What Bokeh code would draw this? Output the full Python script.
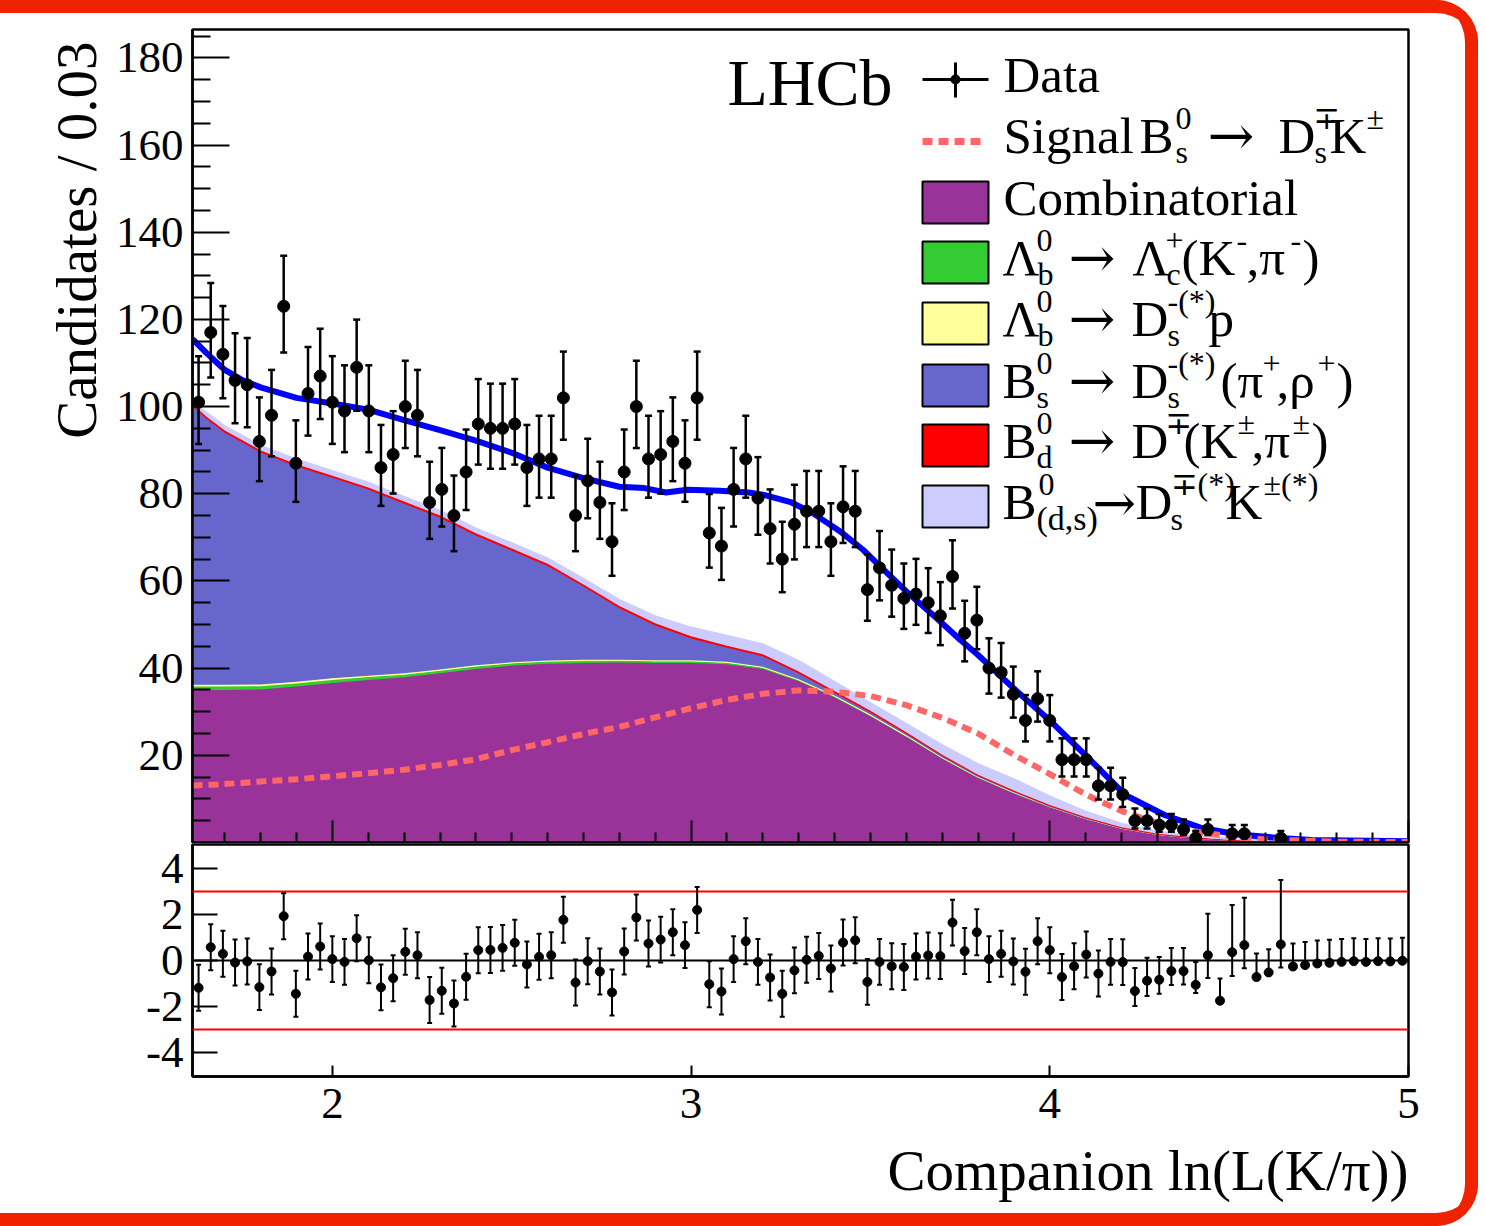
import numpy as np
from bokeh.plotting import figure
from bokeh.layouts import column
from bokeh.models import (Range1d, FixedTicker, Whisker, TeeHead,
                          ColumnDataSource, Span, Label, BoxAnnotation, Arrow, Title)
from bokeh.embed import file_html
from bokeh.resources import INLINE

# ---------------- data ----------------
x_lo, x_hi, n_bins = 1.61, 5.0, 100

counts = [101, 117, 112, 106, 105, 92, 98, 123, 87, 103,
          107, 101, 99, 109, 99, 86, 89, 100, 98, 78,
          81, 75, 85, 96, 95, 95, 96, 86, 88, 88,
          102, 75, 83, 78, 69, 85, 100, 88, 89, 92,
          87, 102, 71, 68, 81, 88, 79, 72, 65, 73,
          76, 76, 69, 77, 76, 58, 63, 59, 56, 57,
          55, 52, 61, 48, 51, 40, 39, 34, 28, 33,
          28, 19, 19, 19, 13, 13, 11, 5, 5, 4,
          4, 3, 1, 3, 0, 2, 2, 0, 0, 1,
          0, 0, 0, 0, 0, 0, 0, 0, 0, 0]

pulls = [-1.19, 0.58, 0.29, -0.09, -0.04, -1.16, -0.48, 1.93, -1.45, 0.17,
         0.61, 0.06, -0.06, 0.97, 0.01, -1.17, -0.77, 0.38, 0.23, -1.72,
         -1.32, -1.87, -0.71, 0.45, 0.46, 0.55, 0.77, -0.17, 0.16, 0.23,
         1.77, -0.96, -0.03, -0.48, -1.39, 0.39, 1.87, 0.74, 0.91, 1.23,
         0.67, 2.20, -1.03, -1.35, 0.06, 0.84, -0.06, -0.74, -1.45, -0.43,
         0.03, 0.20, -0.35, 0.78, 0.88, -0.93, -0.06, -0.25, -0.28, 0.17,
         0.22, 0.19, 1.65, 0.41, 1.23, 0.06, 0.29, -0.04, -0.49, 0.84,
         0.45, -0.72, -0.25, 0.26, -0.57, -0.06, -0.07, -1.33, -0.88, -0.84,
         -0.46, -0.46, -1.06, 0.23, -1.75, 0.36, 0.67, -0.72, -0.52, 0.70,
         -0.26, -0.20, -0.13, -0.10, -0.06, -0.03, -0.06, -0.03, -0.04, -0.01]

pull_err_up = [1.0, 1.0, 1.0, 1.0, 1.0, 1.0, 1.0, 1.0, 1.0, 1.0,
               1.0, 1.0, 1.0, 1.0, 1.0, 1.0, 1.0, 1.0, 1.0, 1.0,
               1.0, 1.0, 1.0, 1.0, 1.0, 1.0, 1.0, 1.0, 1.0, 1.0,
               1.0, 1.0, 1.0, 1.0, 1.0, 1.0, 1.0, 1.0, 1.0, 1.0,
               1.0, 1.0, 1.0, 1.0, 1.0, 1.0, 1.0, 1.0, 1.0, 1.0,
               1.0, 1.0, 1.0, 1.0, 1.0, 1.0, 1.0, 1.0, 1.0, 1.0,
               1.0, 1.0, 1.0, 1.0, 1.0, 1.0, 1.0, 1.0, 1.0, 1.0,
               1.0, 1.0, 1.0, 1.0, 1.0, 1.0, 1.0, 1.0, 1.0, 0.99,
               1.0, 1.0, 1.0, 1.81, 0.97, 2.06, 2.06, 1.03, 1.01, 2.80,
               1.0, 1.0, 1.0, 1.0, 1.0, 1.0, 1.0, 1.0, 1.0, 1.0]

pull_err_dn = [1.0, 1.0, 1.0, 1.0, 1.0, 1.0, 1.0, 1.0, 1.0, 1.0,
               1.0, 1.0, 1.0, 1.0, 1.0, 1.0, 1.0, 1.0, 1.0, 1.0,
               1.0, 1.0, 1.0, 1.0, 1.0, 1.0, 1.0, 1.0, 1.0, 1.0,
               1.0, 1.0, 1.0, 1.0, 1.0, 1.0, 1.0, 1.0, 1.0, 1.0,
               1.0, 1.0, 1.0, 1.0, 1.0, 1.0, 1.0, 1.0, 1.0, 1.0,
               1.0, 1.0, 1.0, 1.0, 1.0, 1.0, 1.0, 1.0, 1.0, 1.0,
               1.0, 1.0, 1.0, 1.0, 1.0, 1.0, 1.0, 1.0, 1.0, 1.0,
               1.0, 1.0, 1.0, 1.0, 1.0, 1.0, 1.0, 0.65, 0.67, 0.61,
               0.61, 0.58, 0.35, 0.99, 0.0, 1.04, 1.01, 0.0, 0.0, 1.01,
               0.0, 0.0, 0.0, 0.0, 0.0, 0.0, 0.0, 0.0, 0.0, 0.0]

# fit components (values read at knots)
knot_x = [1.61, 1.65, 1.70, 1.80, 1.90, 2.00, 2.10, 2.20, 2.30, 2.40,
          2.50, 2.60, 2.70, 2.80, 2.90, 3.00, 3.10, 3.20, 3.30, 3.40,
          3.50, 3.60, 3.70, 3.80, 3.90, 4.00, 4.10, 4.20, 4.30, 4.40,
          4.50, 4.60, 4.80, 5.00]
comb = [35.0, 35.0, 35.0, 35.1, 35.8, 36.6, 37.3, 37.9, 38.8, 39.8,
        40.6, 41.0, 41.2, 41.3, 41.2, 41.2, 40.9, 39.8, 37.0, 33.3,
        29.0, 24.3, 19.3, 14.9, 11.4, 8.2, 5.5, 3.3, 1.9, 1.1,
        0.6, 0.35, 0.12, 0.04]
lam_c = [0.8, 0.8, 0.8, 0.75, 0.7, 0.7, 0.65, 0.6, 0.6, 0.55,
         0.5, 0.5, 0.45, 0.45, 0.4, 0.4, 0.35, 0.35, 0.3, 0.3,
         0.25, 0.2, 0.2, 0.15, 0.12, 0.1, 0.08, 0.06, 0.04, 0.03,
         0.02, 0.01, 0.0, 0.0]
lam_p = [0.4, 0.4, 0.4, 0.4, 0.35, 0.35, 0.3, 0.3, 0.3, 0.3,
         0.25, 0.25, 0.25, 0.2, 0.2, 0.2, 0.2, 0.15, 0.15, 0.12,
         0.1, 0.1, 0.08, 0.06, 0.05, 0.04, 0.03, 0.02, 0.01, 0.01,
         0.0, 0.0, 0.0, 0.0]
bs_dspi = [63.8, 60.9, 57.8, 53.2, 49.4, 46.0, 42.7, 38.9, 34.8, 29.8,
           25.6, 21.7, 16.8, 11.8, 8.0, 5.0, 3.2, 2.4, 1.3, 0.6,
           0.45, 0.35, 0.25, 0.2, 0.15, 0.1, 0.07, 0.05, 0.03, 0.02,
           0.01, 0.01, 0.0, 0.0]
bd_dk = [0.5, 0.5, 0.5, 0.5, 0.5, 0.5, 0.5, 0.5, 0.5, 0.5,
         0.5, 0.5, 0.5, 0.5, 0.5, 0.5, 0.5, 0.5, 0.5, 0.45,
         0.4, 0.35, 0.3, 0.25, 0.2, 0.15, 0.1, 0.07, 0.05, 0.03,
         0.02, 0.01, 0.0, 0.0]
bds_dsk = [0.6, 0.9, 1.0, 1.1, 1.1, 1.1, 1.1, 1.1, 1.1, 1.1,
           1.2, 1.2, 1.3, 1.4, 1.6, 2.0, 2.3, 2.3, 2.4, 2.1,
           1.8, 1.9, 2.2, 2.4, 2.6, 2.0, 1.3, 0.8, 0.5, 0.3,
           0.2, 0.1, 0.03, 0.01]
signal = [13.1, 13.2, 13.4, 14.0, 14.5, 15.2, 15.9, 16.7, 17.8, 19.1,
          21.2, 23.0, 24.9, 26.5, 28.7, 30.8, 32.7, 34.1, 34.9, 34.6,
          33.6, 31.5, 28.6, 25.0, 20.1, 15.7, 11.0, 7.2, 4.5, 2.6,
          1.4, 0.7, 0.2, 0.1]

total_x = [1.61, 1.65, 1.70, 1.75, 1.80, 1.90, 2.00, 2.10, 2.20, 2.30,
           2.40, 2.50, 2.60, 2.70, 2.80, 2.87, 2.93, 2.99, 3.08, 3.16,
           3.20, 3.28, 3.34, 3.42, 3.48, 3.53, 3.60, 3.68, 3.75, 3.80,
           3.90, 4.00, 4.10, 4.21, 4.32, 4.42, 4.52, 4.63, 4.73, 5.00]
total_y = [115.5, 112.2, 108.4, 106.0, 104.4, 102.0, 100.7, 99.3, 96.9, 94.6,
           92.2, 89.4, 86.0, 83.6, 81.6, 81.3, 80.3, 80.9, 80.7, 80.3,
           79.8, 78.0, 75.5, 71.1, 67.1, 63.1, 57.6, 51.8, 46.5, 43.0,
           35.3, 28.0, 20.0, 10.9, 6.3, 3.4, 1.9, 1.1, 0.6, 0.3]

components = [
    ("Combinatorial", comb, "#993399"),
    ("Lb_Lc", lam_c, "#33CC33"),
    ("Lb_Dsp", lam_p, "#FFFF99"),
    ("Bs_Dspi", bs_dspi, "#6666CC"),
    ("Bd_DK", bd_dk, "#FF0000"),
    ("Bds_DsK", bds_dsk, "#CCCCFF"),
]

# axis ticks
main_y_major = [20, 40, 60, 80, 100, 120, 140, 160, 180]
main_y_minor = [5, 10, 15, 25, 30, 35, 45, 50, 55, 65, 70, 75, 85, 90, 95, 105, 110, 115,
                125, 130, 135, 145, 150, 155, 165, 170, 175, 185]
x_major = [2, 3, 4, 5]
x_minor = [1.7, 1.8, 1.9, 2.1, 2.2, 2.3, 2.4, 2.5, 2.6, 2.7, 2.8, 2.9, 3.1, 3.2, 3.3, 3.4,
           3.5, 3.6, 3.7, 3.8, 3.9, 4.1, 4.2, 4.3, 4.4, 4.5, 4.6, 4.7, 4.8, 4.9]
pull_y_major = [-4, -2, 0, 2, 4]

FONT = "Liberation Serif"
RED_FRAME = "#F02200"

# ---------------- geometry helpers (page px -> data, for annotations) ----------------
FL, FR, FT, FBM = 192, 1408, 29, 842
Y_TOP = 186.5
SX = (FR - FL) / (x_hi - x_lo)
SY = (FBM - FT) / Y_TOP
BASE_FIX = 0.39  # baseline correction (fraction of font size)


def X(px):
    return x_lo + (px - FL) / SX


def Y(py):
    return (FBM - py) / SY


def text_label(px, py, t, size, font=FONT):
    return Label(x=X(px), y=Y(py - BASE_FIX * size), text=t, text_font=font,
                 text_font_size=f"{size}px", text_baseline="alphabetic", text_align="left",
                 text_color="black")


# ---------------- main figure ----------------
p = figure(width=1478, height=843, x_range=Range1d(x_lo, x_hi), y_range=Range1d(0, Y_TOP),
           output_backend="svg", toolbar_location=None,
           min_border_left=192, min_border_right=70, min_border_top=29, min_border_bottom=1)
p.title.visible = False
p.xgrid.visible = False
p.ygrid.visible = False
p.background_fill_color = "white"
p.border_fill_color = None
p.outline_line_color = "black"
p.outline_line_width = 2.5

p.xaxis.ticker = FixedTicker(ticks=x_major, minor_ticks=x_minor)
p.xaxis.major_tick_in = 22
p.xaxis.major_tick_out = 0
p.xaxis.minor_tick_in = 10
p.xaxis.minor_tick_out = 0
p.xaxis.major_label_text_font_size = "0px"
p.xaxis.major_label_text_color = None
p.xaxis.major_label_standoff = 0
p.xaxis.axis_line_width = 2.5
p.xaxis.major_tick_line_width = 2
p.xaxis.minor_tick_line_width = 2

p.yaxis.ticker = FixedTicker(ticks=main_y_major, minor_ticks=main_y_minor)
p.yaxis.major_tick_in = 37
p.yaxis.major_tick_out = 0
p.yaxis.minor_tick_in = 18
p.yaxis.minor_tick_out = 0
p.yaxis.major_tick_line_width = 2
p.yaxis.minor_tick_line_width = 2
p.yaxis.axis_line_width = 2.5
p.yaxis.major_label_text_font = FONT
p.yaxis.major_label_text_font_size = "45px"
p.yaxis.major_label_text_color = "black"
p.yaxis.major_label_standoff = 9

p.add_layout(Title(text="Candidates / 0.03", align="right", text_font=FONT, text_color="black",
                   text_font_size="57px", text_font_style="normal", standoff=10, offset=12), "left")

# stacked components
kx = np.array(knot_x)
cum = np.zeros(len(kx))
for name, vals, col in components:
    lower = cum.copy()
    cum = cum + np.array(vals)
    p.varea(x=kx, y1=lower, y2=cum.copy(), fill_color=col, fill_alpha=1.0)
    p.line(x=kx, y=cum.copy(), line_color=col, line_width=2)

# total fit and signal
p.line(x=total_x, y=total_y, line_color="#0000FF", line_width=6)
p.line(x=knot_x, y=signal, line_color="#FF6666", line_width=6, line_dash="10 6")

# data
bin_w = (x_hi - x_lo) / n_bins
centres = x_lo + bin_w * (np.arange(n_bins) + 0.5)
n = np.array(counts, dtype=float)
mask = n > 0
elo = np.sqrt(n + 0.25) - 0.5
ehi = np.sqrt(n + 0.25) + 0.5
dsrc = ColumnDataSource(dict(x=centres[mask], y=n[mask], lo=(n - elo)[mask], hi=(n + ehi)[mask]))
p.add_layout(Whisker(base="x", upper="hi", lower="lo", source=dsrc, dimension="height",
                     line_color="black", line_width=2.5, level="annotation",
                     upper_head=TeeHead(size=7, line_width=2.5, line_color="black"),
                     lower_head=TeeHead(size=7, line_width=2.5, line_color="black")))
p.scatter(x="x", y="y", source=dsrc, marker="circle", size=12, color="black")

# LHCb label
p.add_layout(text_label(727, 108, "LHCb", 66))

# legend texts: (page x, page baseline y, text, size px, font)
F, S, A = 51, 32, 56
AF = "DejaVu Serif"
legend_text = [
    (1003, 94, "Data", F, FONT),
    (1003, 155, "Signal", F, FONT), (1139, 155, "B", F, FONT), (1175, 130, "0", S, FONT),
    (1175, 164, "s", S, FONT), (1207, 157, "\u2192", A, AF),
    (1278, 155, "D", F, FONT), (1313, 130, "\u2213", S, AF), (1314, 164, "s", S, FONT),
    (1329, 155, "K", F, FONT), (1366, 130, "\u00b1", S, FONT),
    (1003, 217, "Combinatorial", F, FONT),
    (1002, 277, "\u039b", F, FONT), (1036, 252, "0", S, FONT), (1037, 286, "b", S, FONT),
    (1068, 279, "\u2192", A, AF),
    (1132, 277, "\u039b", F, FONT), (1165, 252, "+", S, FONT), (1166, 286, "c", S, FONT),
    (1181, 277, "(K", F, FONT), (1236, 252, "-", S, FONT), (1246, 277, ",\u03c0", F, FONT),
    (1290, 252, "-", S, FONT), (1302, 277, ")", F, FONT),
    (1002, 338, "\u039b", F, FONT), (1036, 313, "0", S, FONT), (1037, 347, "b", S, FONT),
    (1068, 340, "\u2192", A, AF),
    (1131, 338, "D", F, FONT), (1167, 313, "-(*)", S, FONT), (1167, 347, "s", S, FONT),
    (1208, 338, "p", F, FONT),
    (1002, 400, "B", F, FONT), (1036, 375, "0", S, FONT), (1036, 409, "s", S, FONT),
    (1068, 402, "\u2192", A, AF),
    (1131, 400, "D", F, FONT), (1167, 375, "-(*)", S, FONT), (1167, 409, "s", S, FONT),
    (1220, 400, "(\u03c0", F, FONT), (1262, 375, "+", S, FONT), (1276, 400, ",\u03c1", F, FONT),
    (1317, 375, "+", S, FONT), (1336, 400, ")", F, FONT),
    (1002, 460, "B", F, FONT), (1036, 435, "0", S, FONT), (1036, 469, "d", S, FONT),
    (1068, 462, "\u2192", A, AF),
    (1131, 460, "D", F, FONT), (1165, 435, "\u2213", S, AF), (1183, 460, "(K", F, FONT),
    (1237, 435, "\u00b1", S, FONT), (1251, 460, ",\u03c0", F, FONT), (1292, 435, "\u00b1", S, FONT),
    (1311, 460, ")", F, FONT),
    (1002, 521, "B", F, FONT), (1038, 496, "0", S, FONT), (1036, 531, "(d,s)", 34, FONT),
    (1092, 523, "\u2192", 52, AF),
    (1135, 521, "D", F, FONT), (1170, 496, "\u2213(*)", S, FONT), (1170, 531, "s", S, FONT),
    (1225, 521, "K", F, FONT), (1263, 496, "\u00b1(*)", S, FONT),
]
for px, py, t, fs, fn in legend_text:
    p.add_layout(text_label(px, py, t, fs, fn))

legend_boxes = [(202, "#993399"), (262, "#33CC33"), (323, "#FFFF99"), (385, "#6666CC"),
                (445, "#FF0000"), (506, "#CCCCFF")]
for cy, col in legend_boxes:
    p.add_layout(BoxAnnotation(left=X(922), right=X(988), top=Y(cy - 21), bottom=Y(cy + 21),
                               fill_color=col, fill_alpha=1.0, line_color="black",
                               line_alpha=1.0, line_width=2, level="annotation"))

# Data legend symbol
p.add_layout(Arrow(end=None, x_start=X(922), y_start=Y(79), x_end=X(988), y_end=Y(79),
                   line_color="black", line_width=3))
p.add_layout(Arrow(end=None, x_start=X(955), y_start=Y(62), x_end=X(955), y_end=Y(97),
                   line_color="black", line_width=3))
p.add_layout(BoxAnnotation(left=X(950), right=X(960), top=Y(74), bottom=Y(84), fill_color="black",
                           fill_alpha=1.0, line_alpha=0, border_radius=5, level="annotation"))
# Signal legend symbol
p.add_layout(Arrow(end=None, x_start=X(922), y_start=Y(141), x_end=X(984), y_end=Y(141),
                   line_color="#FF6666", line_width=7, line_dash="10 6"))

# ---------------- pull figure ----------------
q = figure(width=1478, height=383, x_range=p.x_range, y_range=Range1d(-5.05, 5.05),
           output_backend="svg", toolbar_location=None,
           min_border_left=192, min_border_right=70, min_border_top=1, min_border_bottom=150)
q.title.visible = False
q.xgrid.visible = False
q.ygrid.visible = False
q.background_fill_color = "white"
q.border_fill_color = None
q.outline_line_color = "black"
q.outline_line_width = 2.5

q.xaxis.ticker = FixedTicker(ticks=x_major, minor_ticks=[])
q.xaxis.major_tick_in = 11
q.xaxis.major_tick_out = 0
q.xaxis.major_tick_line_width = 2
q.xaxis.axis_line_width = 2.5
q.xaxis.major_label_text_font = FONT
q.xaxis.major_label_text_font_size = "45px"
q.xaxis.major_label_text_color = "black"
q.xaxis.major_label_standoff = 12

q.yaxis.ticker = FixedTicker(ticks=pull_y_major, minor_ticks=[])
q.yaxis.major_tick_in = 25
q.yaxis.major_tick_out = 0
q.yaxis.major_tick_line_width = 2
q.yaxis.axis_line_width = 2.5
q.yaxis.major_label_text_font = FONT
q.yaxis.major_label_text_font_size = "45px"
q.yaxis.major_label_text_color = "black"
q.yaxis.major_label_standoff = 9
q.yaxis.major_label_overrides = {-4: "-4", -2: "-2", 0: "0", 2: "2", 4: "4"}

q.add_layout(Title(text="Companion ln(L(K/\u03c0))", align="right", text_font=FONT,
                   text_color="black", text_font_size="57px", text_font_style="normal",
                   standoff=32), "below")

q.add_layout(Span(location=3, dimension="width", line_color="red", line_width=2))
q.add_layout(Span(location=-3, dimension="width", line_color="red", line_width=2))
q.add_layout(Span(location=0, dimension="width", line_color="black", line_width=2))

pl = np.array(pulls)
psrc = ColumnDataSource(dict(x=centres, y=pl, lo=pl - np.array(pull_err_dn), hi=pl + np.array(pull_err_up)))
q.add_layout(Whisker(base="x", upper="hi", lower="lo", source=psrc, dimension="height",
                     line_color="black", line_width=2, level="annotation",
                     upper_head=TeeHead(size=5, line_width=2, line_color="black"),
                     lower_head=TeeHead(size=5, line_width=2, line_color="black")))
q.scatter(x="x", y="y", source=psrc, marker="circle", size=9, color="black")

layout = column(p, q, styles={
    "background-color": "white",
    "border-radius": "0 42px 42px 0",
    "box-shadow": f"inset 0 13px 0 0 {RED_FRAME}, inset -13px 0 0 0 {RED_FRAME}, inset 0 -13px 0 0 {RED_FRAME}",
})

open("out.html", "w").write(file_html(layout, INLINE))
